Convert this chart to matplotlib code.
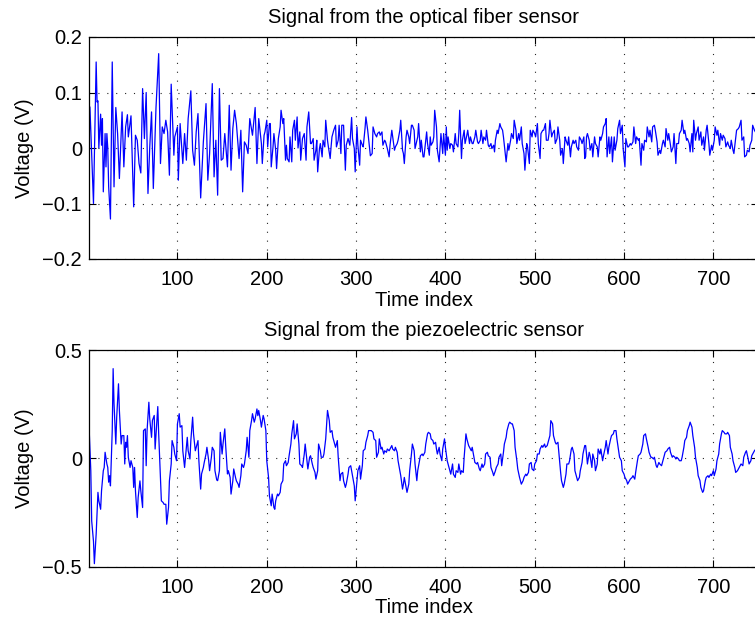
import matplotlib
matplotlib.use("Agg")
import matplotlib.pyplot as plt

# ---------------- data ----------------
fiber_t = [1, 2, 3, 6, 9, 10, 11, 12, 14, 15, 16, 17, 19, 20, 21, 22, 23, 25, 27, 29,
           31, 33, 35, 38, 40, 42, 44, 45, 48, 51, 53, 55, 57, 59, 61, 63, 65, 67, 69, 71,
           73, 76, 79, 81, 83, 85, 87, 89, 91, 93, 96, 97, 100, 101, 103, 106, 108, 110, 112, 115,
           117, 119, 121, 123, 126, 129, 132, 134, 136, 139, 141, 143, 145, 147, 149, 151, 153, 156, 158, 160,
           162, 164, 166, 169, 171, 173, 175, 177, 179, 181, 184,
           187, 189, 191, 192, 194, 195, 197, 198, 200, 201, 203, 204, 205, 207, 208, 210, 211, 213, 215, 216,
           218, 219, 221, 222, 223, 225, 226, 228, 229, 231, 232, 234, 235, 237, 238, 240, 242, 244, 245, 247,
           249, 250, 252, 253, 255, 256, 257, 259, 260, 262, 263, 265, 266, 268, 269, 271, 272, 273, 275, 277,
           278, 280, 281, 283, 284, 286, 288, 289, 291, 293, 295, 296, 298, 299, 301, 302, 304, 305, 307, 308,
           310, 311, 313, 315, 316, 318, 319, 321, 323, 324, 326, 327, 329, 330, 332, 333, 335, 337, 338, 340,
           341, 343, 344, 346, 347, 349, 350, 352, 353, 354, 356, 357, 359, 360, 362, 363, 365, 366,
           369, 370, 372, 373, 375, 376, 378, 379, 380, 382, 383, 384, 386, 387, 388, 390, 391, 393, 394, 395,
           397, 398, 400, 401, 402, 403, 405, 406, 408, 409, 411, 412, 414, 415, 416, 418, 419, 421, 422, 424,
           425, 427, 428, 430, 431, 433, 434, 436, 437, 439, 440, 442, 443, 445, 446, 448, 449, 451, 452, 454,
           455, 456, 458, 459, 461, 462, 464, 465, 467, 468, 470, 471, 473, 474, 476, 477, 479, 480, 482, 483,
           485, 486, 488, 489, 491, 492, 494, 495, 497, 498, 500, 501, 503, 504, 506, 507, 509, 510, 512, 513,
           515, 516, 517, 519, 520, 522, 523, 525, 526, 528, 529, 531, 532, 534, 535, 537, 538, 540, 541, 543,
           544, 546, 547, 549, 550, 552, 553, 555, 556,
           557, 558, 559, 561, 562, 564, 565, 567, 568, 570, 571, 573, 574, 576, 577, 579, 580, 581, 583, 584,
           586, 587, 589, 590, 592, 593, 595, 596, 598, 599, 601, 602, 604, 605, 607, 608, 610, 611, 613, 614,
           616, 617, 619, 620, 622, 623, 625, 626, 628, 629, 631, 632, 634, 635, 637, 638, 640, 641, 643, 644,
           646, 647, 649, 650, 652, 653, 655, 656, 658, 659, 661, 662, 664, 665, 667, 668, 670, 671, 673, 674,
           676, 677, 678, 680, 681, 683, 684, 686, 687, 689, 690, 692, 693, 695, 696, 698, 699, 701, 702, 704,
           705, 707, 708, 710, 711, 713, 714, 716, 717, 719, 720, 722, 723, 725, 726, 728, 729, 731, 732, 734,
           735, 737, 738, 740, 741, 743, 744, 746, 747, 749]
fiber_v = [-0.004, 0.074, 0.032, -0.100, 0.155, 0.083, 0.085, 0.000, 0.061, 0.005, 0.053, -0.079, 0.026, -0.034, 0.026, 0.000, -0.070, -0.128, 0.155, -0.070,
           0.073, 0.026, -0.055, 0.065, -0.034, 0.038, 0.060, 0.020, 0.058, -0.106, 0.023, 0.014, -0.028, -0.045, 0.107, 0.017, 0.100, -0.082, 0.002, 0.065,
           -0.073, 0.073, 0.170, -0.028, 0.038, 0.026, 0.050, 0.029, -0.049, 0.115, -0.013, 0.020, 0.038, -0.058, 0.044, -0.028, 0.026, -0.022, 0.053, 0.103,
           -0.004, -0.031, 0.029, 0.062, -0.090, 0.011, 0.080, -0.058, -0.010, 0.116, -0.052, 0.014, -0.085, 0.107, -0.022, -0.019, 0.026, -0.034, 0.077, -0.040,
           0.035, 0.068, 0.044, -0.019, 0.032, -0.079, 0.011, 0.005, -0.010, 0.053, 0.023,
           0.073, -0.028, 0.053, 0.038, 0.008, -0.028, 0.023, 0.029, 0.050, 0.002, 0.044, 0.044, -0.034, 0.002, 0.026, -0.004, -0.037, 0.017, 0.038, 0.068,
           0.044, 0.053, -0.022, 0.005, -0.019, -0.025, 0.020, -0.025, 0.032, 0.050, 0.014, 0.056, 0.000, 0.029, -0.022, 0.017, 0.026, -0.022, 0.038, 0.065,
           0.008, 0.008, 0.017, -0.022, -0.004, 0.014, -0.043, -0.001, 0.008, -0.016, 0.014, 0.002, 0.050, 0.014, 0.002, -0.019, 0.002, 0.020, 0.032, 0.041,
           0.002, 0.014, 0.041, -0.010, 0.041, 0.041, -0.040, 0.005, 0.017, 0.005, 0.055, 0.017, -0.001, -0.043, 0.038, 0.005, -0.031, 0.014, 0.005, 0.002,
           0.035, 0.056, 0.032, 0.002, -0.014, -0.010, 0.038, 0.026, 0.020, 0.026, 0.029, 0.023, 0.029, 0.005, 0.014, 0.011, -0.001, -0.016, 0.005, 0.032,
           0.020, -0.004, 0.002, 0.008, 0.014, 0.032, 0.050, -0.004, -0.010, -0.028, 0.020, 0.032, 0.020, 0.008, 0.041, 0.041, 0.032, -0.001,
           0.020, 0.044, -0.007, 0.014, -0.016, -0.016, 0.014, 0.029, 0.008, -0.013, 0.020, 0.005, 0.011, 0.020, 0.068, 0.038, -0.004, -0.025, 0.002, 0.026,
           -0.010, 0.026, -0.013, 0.038, -0.004, 0.020, -0.001, 0.008, 0.005, -0.007, 0.026, 0.008, 0.002, 0.026, 0.068, -0.019, 0.014, 0.032, 0.008, 0.023,
           0.032, 0.008, 0.020, 0.008, 0.008, 0.020, 0.032, 0.011, 0.008, 0.014, 0.032, 0.008, 0.020, 0.014, 0.032, 0.005, 0.002, 0.008, -0.001, 0.005,
           -0.007, 0.014, 0.032, 0.026, 0.044, 0.038, 0.032, 0.020, -0.010, -0.025, 0.008, -0.004, 0.014, 0.026, 0.017, 0.050, 0.032, 0.008, 0.026, 0.014,
           0.038, 0.008, -0.010, -0.040, 0.008, 0.002, -0.028, 0.032, 0.020, 0.032, 0.026, 0.020, 0.044, 0.008, -0.019, 0.026, 0.032, 0.032, 0.044, 0.014,
           0.014, 0.026, 0.050, 0.020, 0.026, 0.032, 0.008, 0.017, 0.038, 0.014, -0.013, -0.001, -0.028, 0.020, 0.014, 0.005, 0.020, -0.016, 0.002, 0.014,
           0.008, 0.014, 0.002, -0.004, 0.020, 0.014, 0.008, 0.020, -0.019,
           -0.016, 0.020, 0.026, 0.014, -0.004, 0.008, -0.016, 0.020, 0.008, 0.002, -0.016, 0.020, 0.014, 0.026, 0.038, 0.044, 0.053, -0.016, 0.020, -0.010,
           0.020, -0.025, 0.020, -0.004, 0.014, 0.035, 0.050, 0.026, 0.041, -0.001, -0.034, 0.017, 0.002, 0.002, 0.008, 0.005, 0.011, 0.038, 0.008, 0.020,
           0.014, 0.017, -0.031, 0.008, -0.004, 0.014, 0.011, 0.038, 0.020, 0.032, 0.011, 0.038, 0.041, 0.032, 0.011, -0.013, -0.004, -0.010, 0.008, 0.014,
           0.002, 0.035, 0.014, 0.026, 0.005, -0.007, 0.002, 0.026, -0.028, 0.008, 0.008, 0.026, 0.032, 0.050, 0.026, 0.032, 0.014, 0.017, 0.008, -0.007,
           0.026, -0.007, 0.050, 0.014, 0.026, 0.038, 0.014, 0.029, 0.005, 0.020, -0.004, 0.032, 0.041, 0.008, -0.013, 0.005, -0.004, 0.014, 0.038, 0.023,
           0.032, 0.005, 0.026, 0.014, 0.023, 0.017, 0.002, 0.011, 0.005, -0.001, 0.014, -0.004, -0.010, 0.017, 0.032, 0.035, 0.038, 0.050, 0.014, 0.020,
           -0.016, -0.013, -0.004, -0.007, 0.005, 0.014, 0.041, 0.032, 0.029, 0.045]

piezo_t = [1, 3, 4, 6, 7, 9, 11, 12, 14, 15, 17, 18, 19, 21, 22, 23, 24, 25, 27, 28,
           29, 31, 32, 34, 35, 37, 38, 40, 41, 42, 43, 44, 45, 47, 48, 50, 51, 52, 53, 55,
           56, 58, 59, 61, 62, 64, 65, 66, 68, 69, 71, 72, 74, 75, 77, 78, 79, 81, 82, 84,
           85, 87, 88, 90, 91, 93, 94, 96, 97, 99, 100, 102, 103, 105, 106, 108, 109, 111, 112, 114,
           115, 117, 118, 120, 121, 123, 124, 126, 127, 129, 130, 132, 133, 135, 136, 138, 139, 141, 142, 144,
           145, 147, 148, 150, 151, 153, 154, 156, 157, 159, 160, 162, 163, 165, 166, 168, 169, 171, 172, 174,
           175, 177, 178, 180, 181, 183, 184, 186, 187,
           189, 190, 191, 193, 194, 196, 197, 199, 200, 202, 203, 205, 206, 208, 209, 210, 212, 213, 215, 216,
           218, 219, 221, 222, 224, 225, 227, 228, 230, 231, 233, 234, 236, 237, 239, 240, 242, 243, 245, 246,
           248, 249, 251, 252, 254, 255, 257, 258, 260, 261, 263, 264, 266, 267, 268, 270, 271, 273, 274, 276,
           277, 279, 280, 282, 283, 285, 286, 288, 289, 291, 292, 294, 295, 297, 298, 299, 301, 302, 304, 305,
           307, 308, 310, 311, 313, 314, 316, 317, 319, 320, 322, 323, 325, 326, 328, 329, 331, 332, 334, 335,
           337, 338, 340, 341, 343, 344, 346, 347, 349, 350, 352, 353, 354, 356, 357, 359, 360, 362, 363, 365,
           366, 368, 369, 371,
           372, 374, 375, 377, 378, 380, 381, 383, 384, 386, 387, 389, 390, 391, 393, 394, 396, 397, 399, 400,
           402, 403, 405, 406, 408, 409, 411, 412, 414, 415, 417, 418, 420, 421, 423, 424, 426, 427, 429, 430,
           432, 433, 435, 436, 438, 439, 441, 442, 444, 445, 447, 448, 450, 451, 453, 454, 456, 457, 459, 460,
           462, 463, 465, 466, 468, 469, 471, 472, 474, 475, 477, 478, 480, 481, 483, 484, 485, 487, 488, 490,
           491, 493, 494, 496, 497, 499, 500, 502, 503, 505, 506, 508, 509, 511, 512, 514, 515, 517, 518, 520,
           521, 523, 524, 526, 527, 529, 530, 532, 533, 535, 536, 538, 539, 541, 542, 544, 545, 547, 548, 550,
           551, 553, 554, 556,
           557, 558, 559, 561, 562, 564, 565, 567, 568, 570, 571, 573, 574, 576, 577, 579, 580, 582, 583, 585,
           586, 588, 589, 591, 592, 594, 595, 597, 598, 600, 601, 603, 604, 606, 607, 609, 610, 612, 613, 615,
           616, 618, 619, 621, 622, 624, 625, 627, 628, 630, 631, 633, 634, 636, 637, 639, 640, 642, 643, 645,
           646, 648, 649, 651, 652, 654, 655, 657, 658, 659, 661, 662, 664, 665, 667, 668, 670, 671, 673, 674,
           676, 677, 679, 680, 682, 683, 685, 686, 688, 689, 691, 692, 694, 695, 697, 698, 700, 701, 703, 704,
           706, 707, 709, 710, 712, 713, 715, 716, 718, 719, 721, 722, 724, 725, 727, 728, 730, 731, 733, 734,
           736, 737, 739, 740, 742, 743, 745, 746, 749]
piezo_v = [0.151, -0.057, -0.289, -0.383, -0.486, -0.350, -0.157, -0.196, -0.235, -0.150, -0.057, -0.042, 0.028, -0.026, -0.042, -0.110, -0.080, -0.127, 0.128, 0.414,
           0.252, 0.066, 0.190, 0.344, 0.221, 0.066, 0.105, 0.105, -0.026, 0.074, 0.051, 0.105, 0.005, -0.042, -0.011, -0.042, -0.134, -0.042, -0.150, -0.273,
           -0.181, -0.104, -0.150, -0.227, 0.128, 0.136, -0.034, 0.128, 0.259, 0.182, 0.097, 0.175, 0.198, 0.043, 0.175, 0.239, 0.113, -0.088, -0.196, -0.204,
           -0.212, -0.212, -0.304, -0.227, -0.104, -0.026, 0.082, 0.051, 0.020, -0.011, 0.159, 0.206, 0.144, 0.151, 0.035, -0.042, 0.005, 0.097, 0.035, -0.003,
           0.082, 0.190, 0.113, 0.035, 0.051, 0.082, -0.011, -0.142, -0.072, -0.042, -0.019, 0.020, 0.051, -0.011, -0.057, 0.005, 0.051, 0.035, -0.057, -0.100,
           -0.103, -0.057, 0.120, 0.020, 0.066, 0.136, 0.059, -0.072, -0.057, -0.088, -0.165, -0.104, -0.049, -0.088, -0.104, -0.119, -0.134, -0.080, -0.026, -0.042,
           -0.026, 0.035, 0.097, 0.005, 0.128, 0.175, 0.206, 0.167, 0.182,
           0.228, 0.197, 0.221, 0.174, 0.144, 0.198, 0.182, 0.128, -0.011, -0.088, -0.173, -0.219, -0.165, -0.227, -0.235, -0.196, -0.165, -0.173, -0.157, -0.119,
           -0.103, -0.026, -0.011, -0.034, -0.019, 0.012, 0.066, 0.113, 0.174, 0.090, 0.113, 0.159, 0.066, -0.026, -0.034, -0.042, 0.020, 0.066, -0.011, -0.049,
           0.005, 0.012, -0.026, -0.042, -0.065, -0.096, -0.057, 0.066, 0.035, 0.005, 0.005, 0.020, 0.090, 0.159, 0.221, 0.174, 0.120, 0.128, 0.097, 0.066,
           0.051, 0.082, 0.005, -0.103, -0.073, -0.065, -0.103, -0.134, -0.119, -0.073, -0.042, -0.034, -0.057, -0.103, -0.127, -0.196, -0.103, -0.057, -0.034, -0.096,
           -0.034, 0.035, 0.043, 0.074, 0.105, 0.128, 0.128, 0.128, 0.120, 0.090, 0.082, 0.005, 0.028, 0.090, 0.043, 0.051, 0.020, 0.035, 0.028, 0.043,
           0.035, 0.043, 0.059, 0.043, 0.035, 0.051, 0.028, -0.011, -0.057, -0.080, -0.142, -0.119, -0.088, -0.134, -0.157, -0.119, -0.057, 0.020, 0.066, 0.035,
           -0.026, -0.103, -0.057, -0.011,
           0.012, 0.020, 0.012, 0.028, 0.066, 0.113, 0.120, 0.113, 0.090, 0.082, 0.066, 0.074, 0.043, 0.020, 0.051, 0.020, -0.011, 0.043, 0.090, 0.051,
           -0.011, -0.026, -0.057, -0.073, -0.026, -0.073, -0.088, -0.057, -0.065, -0.026, -0.073, -0.057, -0.065, 0.005, 0.113, 0.090, 0.059, 0.051, 0.035, 0.051,
           0.005, -0.019, -0.026, -0.019, -0.049, -0.057, -0.026, -0.042, -0.026, 0.020, 0.028, 0.012, 0.005, -0.042, -0.065, -0.080, -0.057, -0.042, -0.026, 0.005,
           0.020, -0.034, 0.028, 0.066, 0.097, 0.128, 0.159, 0.167, 0.159, 0.159, 0.128, 0.051, -0.011, -0.049, -0.088, -0.103, -0.119, -0.103, -0.088, -0.073,
           -0.080, -0.065, -0.026, -0.019, -0.049, -0.057, -0.026, -0.011, 0.020, 0.020, 0.043, 0.059, 0.051, 0.066, 0.051, 0.059, 0.074, 0.105, 0.174, 0.159,
           0.105, 0.074, 0.066, 0.074, 0.028, -0.065, -0.103, -0.134, -0.119, -0.073, -0.026, -0.026, -0.011, 0.043, 0.051, 0.020, -0.057, -0.088, -0.103, -0.088,
           -0.057, -0.019, 0.020, 0.059,
           0.059, 0.020, -0.026, 0.028, 0.012, -0.042, 0.020, -0.011, -0.057, -0.026, 0.043, 0.020, 0.043, -0.011, 0.012, 0.051, 0.082, 0.020, 0.051, 0.090,
           0.105, 0.113, 0.128, 0.128, 0.090, 0.035, 0.005, -0.011, -0.057, -0.073, -0.088, -0.103, -0.119, -0.103, -0.096, -0.088, -0.080, -0.096, -0.065, -0.011,
           0.012, 0.020, 0.028, 0.066, 0.105, 0.113, 0.090, 0.051, 0.028, 0.005, 0.005, -0.003, 0.005, -0.034, -0.042, -0.019, -0.026, -0.034, -0.019, 0.012,
           0.028, 0.035, 0.043, 0.051, 0.028, 0.005, 0.012, 0.005, -0.003, 0.005, -0.003, -0.011, -0.011, 0.005, 0.051, 0.082, 0.097, 0.128, 0.151, 0.167,
           0.144, 0.105, 0.051, 0.005, -0.042, -0.080, -0.103, -0.134, -0.157, -0.150, -0.103, -0.088, -0.080, -0.088, -0.073, -0.080, -0.057, -0.080, -0.049, -0.011,
           0.020, 0.066, 0.113, 0.128, 0.120, 0.113, 0.113, 0.120, 0.105, 0.051, 0.020, -0.011, -0.042, -0.065, -0.057, -0.049, -0.034, -0.026, -0.034, 0.005,
           0.028, 0.035, -0.003, -0.026, -0.011, 0.012, 0.028, 0.035, 0.050]

fiber_yticks = [-0.2, -0.1, 0, 0.1, 0.2]
fiber_yticklabels = ["\u22120.2", "\u22120.1", "0", "0.1", "0.2"]
piezo_yticks = [-0.5, 0, 0.5]
piezo_yticklabels = ["\u22120.5", "0", "0.5"]
xticks = [100, 200, 300, 400, 500, 600, 700]

# ---------------- figure ----------------
plt.rcParams['font.family'] = ['Liberation Sans', 'DejaVu Sans']
FS = 14.5

fig = plt.figure(figsize=(7.55, 6.25), dpi=100)
ax1 = fig.add_axes([0.1179, 0.5856, 0.8861, 0.3552])
ax2 = fig.add_axes([0.1179, 0.0933, 0.8861, 0.3467])

specs = [
    (ax1, fiber_t, fiber_v, (-0.2, 0.2), fiber_yticks, fiber_yticklabels,
     "Signal from the optical fiber sensor"),
    (ax2, piezo_t, piezo_v, (-0.5, 0.5), piezo_yticks, piezo_yticklabels,
     "Signal from the piezoelectric sensor"),
]

for ax, t, v, ylim, yt, ytl, title in specs:
    ax.plot(t, v, color=(0, 0, 1), linewidth=0.9)
    ax.set_xlim(1, 750)
    ax.set_ylim(*ylim)
    ax.set_xticks(xticks)
    ax.set_yticks(yt)
    ax.set_yticklabels(ytl)
    ax.tick_params(direction='in', top=True, right=True, length=5, width=0.8,
                   labelsize=FS)
    ax.tick_params(axis='x', pad=8)
    ax.tick_params(axis='y', pad=5)
    ax.grid(True, color='0.15', linewidth=0.8, linestyle=(0, (1, 7)))
    for s in ax.spines.values():
        s.set_linewidth(0.9)
    ax.set_xlabel("Time index", fontsize=FS, labelpad=1)
    ax.set_ylabel("Voltage (V)", fontsize=FS, labelpad=6)
    ax.set_title(title, fontsize=FS, pad=10)

fig.savefig("out.png", dpi=100)
